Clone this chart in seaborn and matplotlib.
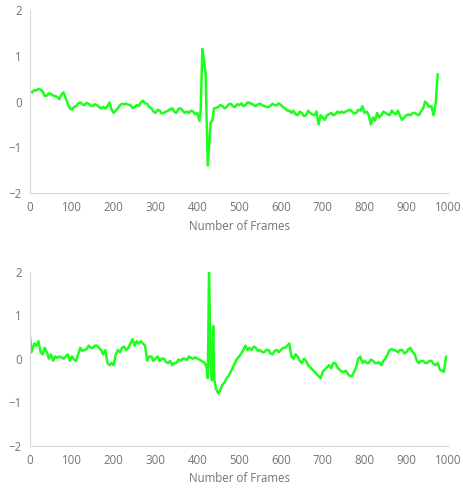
import matplotlib
matplotlib.use("Agg")
import matplotlib.pyplot as plt
import seaborn as sns
import pandas as pd

# top signal: (frame, value)
top_frames = [0, 5, 10, 15, 20, 25, 30, 35, 40, 45, 50, 55, 60, 65, 70, 75, 80, 85, 90, 95,
              100, 105, 110, 115, 120, 125, 130, 135, 140, 145, 150, 155, 160, 165, 170, 175,
              180, 185, 190, 195, 200, 205, 210, 215, 220, 225, 230, 235, 240, 245, 250, 255,
              260, 265, 270, 275, 280, 285, 290, 295, 300, 305, 310, 315, 320, 325, 330, 335,
              340, 345, 350, 355, 360, 365, 370, 375, 380, 385, 390, 395, 400, 405, 408, 412,
              416, 420, 422, 425, 428, 432, 436, 440, 445, 450, 455, 460, 465, 470, 475, 480,
              485, 490, 495, 500, 505, 510, 515, 520, 525, 530, 535, 540, 545, 550, 555, 560,
              565, 570, 575, 580, 585, 590, 595, 600, 605, 610, 615, 620, 625, 630, 635, 640,
              645, 650, 655, 660, 665, 670, 675, 680, 685, 690, 695, 700, 705, 710, 715, 720,
              725, 730, 735, 740, 745, 750, 755, 760, 765, 770, 775, 780, 785, 790, 795, 800,
              805, 810, 815, 820, 825, 830, 835, 840, 845, 850, 855, 860, 865, 870, 875, 880,
              885, 890, 895, 900, 905, 910, 915, 920, 925, 930, 935, 940, 945, 950, 955, 960,
              965, 970, 975]
top_values = [0.22, 0.20, 0.25, 0.24, 0.28, 0.26, 0.22, 0.12, 0.13, 0.18, 0.16, 0.13, 0.12, 0.10, 0.05, 0.15, 0.20, 0.08, -0.05, -0.15,
              -0.18, -0.12, -0.10, -0.04, -0.02, -0.06, -0.08, -0.03, -0.05, -0.09, -0.10, -0.06, -0.08, -0.12, -0.15, -0.12,
              -0.15, -0.10, -0.02, -0.18, -0.25, -0.20, -0.15, -0.08, -0.05, -0.06, -0.05, -0.07, -0.08, -0.14, -0.12, -0.08,
              -0.10, -0.02, 0.02, -0.04, -0.05, -0.12, -0.15, -0.22, -0.25, -0.18, -0.20, -0.26, -0.25, -0.22, -0.20, -0.17,
              -0.15, -0.22, -0.25, -0.16, -0.15, -0.20, -0.25, -0.22, -0.25, -0.20, -0.22, -0.28, -0.25, -0.42, -0.20, 1.15,
              0.90, 0.60, -0.30, -1.40, -1.00, -0.45, -0.42, -0.15, -0.14, -0.12, -0.08, -0.10, -0.15, -0.12, -0.06, -0.05,
              -0.10, -0.12, -0.06, -0.08, -0.04, -0.10, -0.08, -0.02, -0.03, -0.05, -0.08, -0.10, -0.06, -0.05, -0.08, -0.10,
              -0.12, -0.12, -0.09, -0.05, -0.08, -0.08, -0.04, -0.08, -0.12, -0.15, -0.20, -0.20, -0.25, -0.20, -0.28, -0.30,
              -0.22, -0.25, -0.32, -0.30, -0.20, -0.25, -0.28, -0.30, -0.22, -0.50, -0.30, -0.35, -0.40, -0.30, -0.28, -0.25,
              -0.30, -0.28, -0.22, -0.25, -0.22, -0.25, -0.22, -0.20, -0.18, -0.22, -0.26, -0.25, -0.18, -0.20, -0.10, -0.25,
              -0.22, -0.30, -0.50, -0.35, -0.42, -0.25, -0.35, -0.30, -0.22, -0.25, -0.28, -0.30, -0.20, -0.25, -0.28, -0.20,
              -0.32, -0.40, -0.35, -0.30, -0.28, -0.30, -0.25, -0.25, -0.28, -0.30, -0.22, -0.15, 0.00, -0.05, -0.12, -0.10,
              -0.30, -0.05, 0.60]

# bottom signal
bottom_frames = [0, 3, 5, 10, 15, 20, 25, 30, 35, 40, 45, 50, 55, 60, 65, 70, 75, 80, 85, 90, 95,
                 100, 105, 110, 115, 120, 125, 130, 135, 140, 145, 150, 155, 160, 165, 170, 175,
                 180, 185, 190, 195, 200, 205, 210, 215, 220, 225, 230, 235, 240, 245, 250, 255,
                 260, 265, 270, 275, 280, 285, 290, 295, 300, 305, 310, 315, 320, 325, 330, 335,
                 340, 345, 350, 355, 360, 365, 370, 375, 380, 385, 390, 395, 400, 405, 410, 415,
                 418, 422, 425, 428, 432, 435, 438, 440, 445, 450, 455, 460, 465, 470, 475, 480,
                 485, 490, 495, 500, 505, 510, 515, 520, 525, 530, 535, 540, 545, 550, 555, 560,
                 565, 570, 575, 580, 585, 590, 595, 600, 605, 610, 615, 620, 625, 630, 635, 640,
                 645, 650, 655, 660, 665, 670, 675, 680, 685, 690, 695, 700, 705, 710, 715, 720,
                 725, 730, 735, 740, 745, 750, 755, 760, 765, 770, 775, 780, 785, 790, 795, 800,
                 805, 810, 815, 820, 825, 830, 835, 840, 845, 850, 855, 860, 865, 870, 875, 880,
                 885, 890, 895, 900, 905, 910, 915, 920, 925, 930, 935, 940, 945, 950, 955, 960,
                 965, 970, 975, 980, 985, 990, 995]
bottom_values = [0.50, 0.15, 0.20, 0.35, 0.30, 0.40, 0.15, 0.10, 0.25, 0.15, 0.00, 0.10, -0.05, 0.05, 0.02, 0.05, 0.03, 0.00, 0.05, 0.10, -0.05,
                 0.05, -0.02, -0.05, 0.10, 0.25, 0.18, 0.20, 0.22, 0.30, 0.25, 0.25, 0.30, 0.30, 0.25, 0.20, 0.10,
                 0.20, -0.10, -0.15, -0.10, -0.15, 0.10, 0.20, 0.15, 0.25, 0.28, 0.20, 0.25, 0.35, 0.45, 0.30, 0.40,
                 0.35, 0.40, 0.35, 0.30, -0.05, 0.05, 0.05, -0.05, 0.00, 0.05, -0.05, 0.00, 0.00, -0.08, -0.10, -0.05,
                 -0.15, -0.10, -0.10, -0.02, -0.05, 0.00, 0.00, -0.03, 0.05, 0.02, 0.00, 0.03, 0.00, -0.02, -0.05, -0.08,
                 -0.10, -0.20, -0.45, 2.00, -0.20, -0.50, 0.75, -0.45, -0.70, -0.80, -0.72, -0.60, -0.55, -0.45, -0.40, -0.30,
                 -0.20, -0.10, 0.00, 0.05, 0.12, 0.20, 0.30, 0.20, 0.25, 0.20, 0.28, 0.25, 0.18, 0.20, 0.15, 0.15,
                 0.20, 0.20, 0.12, 0.10, 0.18, 0.20, 0.15, 0.20, 0.25, 0.25, 0.30, 0.35, 0.05, 0.00, 0.10, 0.05,
                 -0.05, -0.10, 0.00, -0.05, -0.15, -0.20, -0.25, -0.30, -0.35, -0.40, -0.45, -0.30, -0.25, -0.20, -0.15, -0.22,
                 -0.10, -0.10, -0.20, -0.25, -0.30, -0.30, -0.28, -0.35, -0.40, -0.40, -0.30, -0.20, 0.00, 0.05, -0.10, -0.05,
                 -0.10, -0.10, -0.02, -0.05, -0.10, -0.10, -0.08, -0.15, -0.05, 0.00, 0.10, 0.20, 0.22, 0.20, 0.18, 0.15,
                 0.20, 0.20, 0.12, 0.15, 0.22, 0.25, 0.15, 0.10, -0.05, -0.10, -0.05, -0.05, -0.10, -0.10, -0.05, -0.05,
                 -0.12, -0.15, -0.10, -0.25, -0.28, -0.30, 0.05]

x_ticks = [0, 100, 200, 300, 400, 500, 600, 700, 800, 900, 1000]
y_ticks = [-2, -1, 0, 1, 2]

sns.set_style("white")
plt.rcParams['font.family'] = ['Open Sans', 'DejaVu Sans']

fig = plt.figure(figsize=(4.63, 4.88), dpi=100)
ax1 = fig.add_axes([0.065, 0.6045, 0.903, 0.375])
ax2 = fig.add_axes([0.065, 0.087, 0.903, 0.356])

gray = "#737373"
for ax, frames, values in [(ax1, top_frames, top_values), (ax2, bottom_frames, bottom_values)]:
    df = pd.DataFrame({"frame": frames, "value": values})
    sns.lineplot(data=df, x="frame", y="value", ax=ax, color="#1CFF1C", linewidth=1.8)
    ax.set_xlim(0, 1000)
    ax.set_ylim(-2, 2)
    ax.set_xticks(x_ticks)
    ax.set_yticks(y_ticks)
    ax.tick_params(axis="both", labelsize=8.3, colors=gray, length=0, pad=6)
    ax.set_xlabel("Number of Frames", fontsize=8.3, color=gray, labelpad=4)
    ax.set_ylabel("")
    for s in ["top", "right"]:
        ax.spines[s].set_visible(False)
    for s in ["left", "bottom"]:
        ax.spines[s].set_color("#d9d9d9")
        ax.spines[s].set_linewidth(0.8)

fig.savefig("out.png", dpi=100)
